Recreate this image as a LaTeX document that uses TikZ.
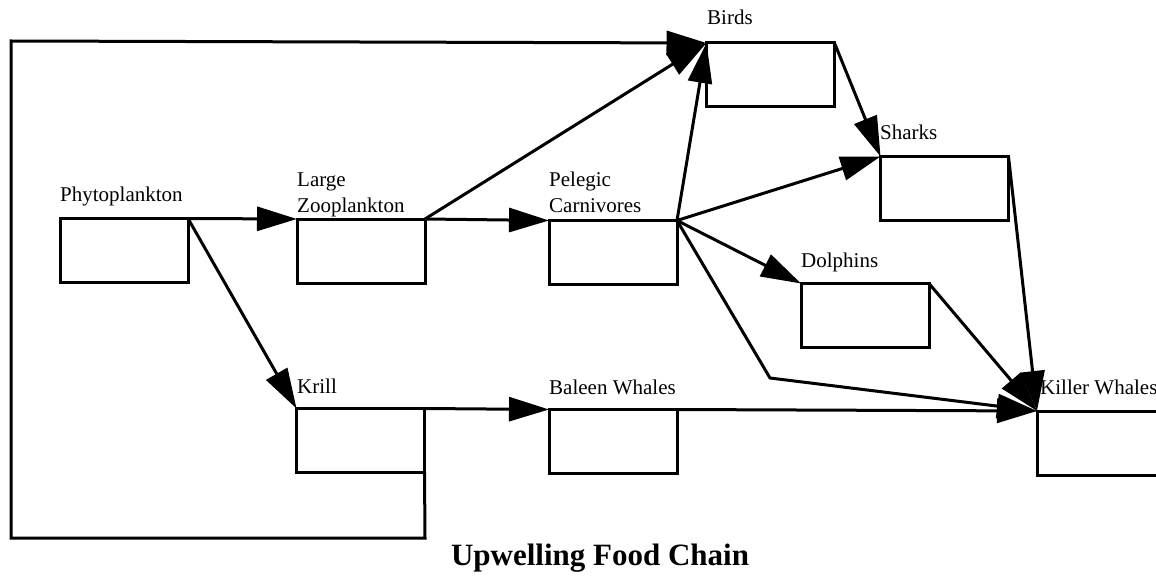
\documentclass[tikz,border=0pt]{standalone}
\usepackage{fontspec}
\setmainfont{Liberation Serif}
\usetikzlibrary{arrows.meta}
\begin{document}
\begin{tikzpicture}[x=1pt,y=-1pt,
  box/.style={draw,line width=3pt,minimum width=128pt,minimum height=64pt,inner sep=0pt,outer sep=0pt},
  lbl/.style={anchor=base west,inner sep=0pt,font=\fontsize{21}{25}\selectfont},
  conn/.style={line width=3pt,-{Triangle[length=40pt,width=24pt]},line join=miter},
  ]
\useasboundingbox (0,0) rectangle (1156,580);
\clip (0,0) rectangle (1156,580);
% boxes
\node[box] (phyto)  at (124,250.5) {};
\node[box] (zoo)    at (361,251) {};
\node[box] (pel)    at (613,252.5) {};
\node[box] (birds)  at (770.5,75) {};
\node[box] (sharks) at (944.5,188.5) {};
\node[box] (dolph)  at (865,315.5) {};
\node[box] (killer) at (1101,443) {};
\node[box] (krill)  at (360.5,440.5) {};
\node[box] (baleen) at (613,441.5) {};
% labels
\node[lbl] (lphyto) at (60,202) {Phytoplankton};
\node[lbl] (lzooa)  at (297,186) {Large};
\node[lbl] (lzoob)  at (297,212) {Zooplankton};
\node[lbl] (lpela)  at (549,187) {Pelegic};
\node[lbl] (lpelb)  at (549,213) {Carnivores};
\node[lbl] (lbirds) at (707,25) {Birds};
\node[lbl] (lsharks) at (880,140) {Sharks};
\node[lbl] (ldolph) at (801,267) {Dolphins};
\node[lbl] (lkiller) at (1040,394) {Killer Whales};
\node[lbl] (lkrill) at (297,393) {Krill};
\node[lbl] (lbaleen) at (549,394) {Baleen Whales};
\node[anchor=base,inner sep=0pt,font=\fontsize{31}{36}\selectfont\bfseries] (title) at (600,565) {Upwelling Food Chain};
% corner coordinates
\coordinate (bend) at (770,378);
\coordinate (lpA) at (425,538);
\coordinate (lpB) at (11,538);
\coordinate (lpC) at (11,41);
% connectors
\draw[conn] (phyto.north east) -- (zoo.north west);
\draw[conn] (phyto.north east) -- (krill.north west);
\draw[conn] (zoo.north east) -- (birds.north west);
\draw[conn] (zoo.north east) -- (pel.north west);
\draw[conn] (pel.north east) -- (birds.north west);
\draw[conn] (pel.north east) -- (sharks.north west);
\draw[conn] (pel.north east) -- (dolph.north west);
\draw[conn] (pel.north east) -- (bend) -- (killer.north west);
\draw[conn] (birds.north east) -- (sharks.north west);
\draw[conn] (sharks.north east) -- (killer.north west);
\draw[conn] (dolph.north east) -- (killer.north west);
\draw[conn] (baleen.north east) -- (killer.north west);
\draw[conn] (krill.north east) -- (baleen.north west);
\draw[conn] (krill.south east) -- (lpA) -- (lpB) -- (lpC) -- (birds.north west);
\end{tikzpicture}
\end{document}
